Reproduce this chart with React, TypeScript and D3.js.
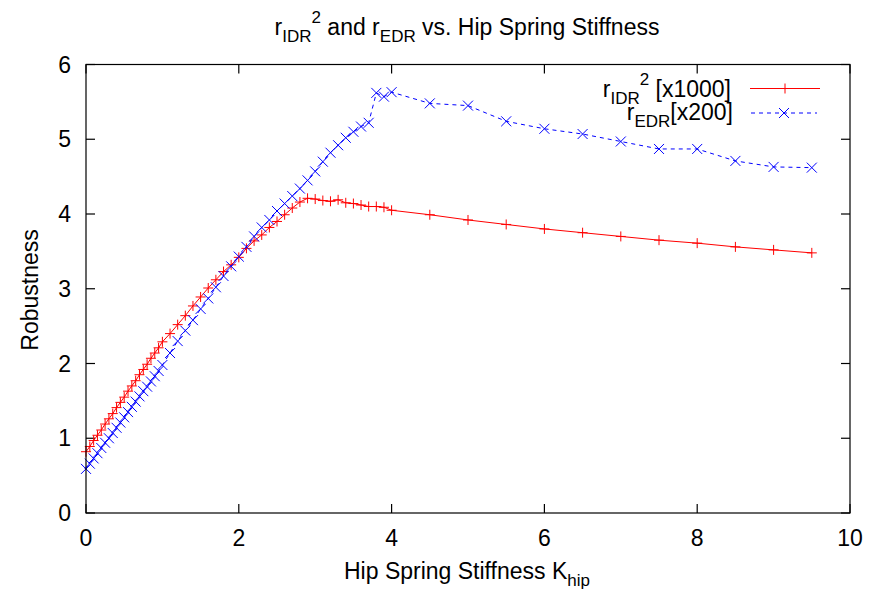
import React from "react";
import * as d3 from "d3";

const xValues = [
  0, 0.05, 0.1, 0.15, 0.2, 0.25, 0.3, 0.35, 0.4, 0.45, 0.5, 0.55, 0.6, 0.65, 0.7, 0.75, 0.8, 0.85, 0.9, 0.95, 1.0,
  1.1, 1.2, 1.3, 1.4, 1.5, 1.6, 1.7, 1.8, 1.9, 2.0, 2.1, 2.2, 2.3, 2.4, 2.5, 2.6, 2.7, 2.8, 2.9, 3.0,
  3.1, 3.2, 3.3, 3.4, 3.5, 3.6, 3.7, 3.8, 3.9, 4.0,
  4.5, 5.0, 5.5, 6.0, 6.5, 7.0, 7.5, 8.0, 8.5, 9.0, 9.5,
];

const rIDR2 = [
  0.82, 0.89, 0.97, 1.04, 1.11, 1.19, 1.26, 1.33, 1.41, 1.48, 1.55, 1.63, 1.7, 1.77, 1.85, 1.92, 1.99, 2.07, 2.14, 2.21, 2.29,
  2.4, 2.52, 2.64, 2.77, 2.89, 3.01, 3.12, 3.23, 3.32, 3.42, 3.54, 3.64, 3.72, 3.82, 3.9, 3.99, 4.08, 4.16, 4.21, 4.2,
  4.18, 4.17, 4.19, 4.15, 4.14, 4.12, 4.1, 4.1, 4.09, 4.05,
  3.99, 3.92, 3.86, 3.8, 3.75, 3.7, 3.65, 3.61, 3.56, 3.52, 3.48,
];

const rEDR = [
  0.59, 0.66, 0.73, 0.8, 0.87, 0.94, 1.0, 1.07, 1.14, 1.21, 1.28, 1.35, 1.42, 1.49, 1.56, 1.63, 1.69, 1.76, 1.83, 1.9, 1.98,
  2.14, 2.3, 2.44, 2.58, 2.73, 2.87, 3.02, 3.17, 3.3, 3.43, 3.56, 3.7, 3.82, 3.92, 4.04, 4.14, 4.24, 4.34, 4.45, 4.57,
  4.7, 4.82, 4.92, 5.02, 5.1, 5.17, 5.22, 5.62, 5.57, 5.63,
  5.48, 5.45, 5.24, 5.14, 5.07, 4.97, 4.87, 4.87, 4.71, 4.63, 4.62,
];

const xTicks = [0, 2, 4, 6, 8, 10];
const yTicks = [0, 1, 2, 3, 4, 5, 6];

const W = 878;
const H = 590;
const L = 86;
const R = 850;
const T = 64.5;
const B = 513;
const FONT = "'Liberation Sans', Arial, sans-serif";
const FS = 23;
const SFS = 17;

export default function App() {
  const x = d3.scaleLinear().domain([0, 10]).range([L, R]);
  const y = d3.scaleLinear().domain([0, 6]).range([B, T]);
  const pts = (ys: number[]) => xValues.map((v, i) => [v, ys[i]] as [number, number]);
  const line = d3
    .line<[number, number]>()
    .x((d) => x(d[0]))
    .y((d) => y(d[1]));
  const tl = 9;
  const ms = 5;

  const plus = (cx: number, cy: number, k: string) => (
    <path key={k} d={`M${cx - ms},${cy}H${cx + ms}M${cx},${cy - ms}V${cy + ms}`} stroke="#ff0000" strokeWidth={1} fill="none" />
  );
  const cross = (cx: number, cy: number, k: string) => (
    <path key={k} d={`M${cx - ms},${cy - ms}L${cx + ms},${cy + ms}M${cx - ms},${cy + ms}L${cx + ms},${cy - ms}`} stroke="#0000ff" strokeWidth={1} fill="none" />
  );

  return (
    <svg width={W} height={H} style={{ position: "absolute", left: 0, top: 0, background: "#fff" }} fontFamily={FONT}>
      <rect x={0} y={0} width={W} height={H} fill="#fff" />
      {xTicks.map((t) => (
        <g key={"xt" + t}>
          <line x1={x(t)} x2={x(t)} y1={B} y2={B - tl} stroke="#000" strokeWidth={1.2} />
          <line x1={x(t)} x2={x(t)} y1={T} y2={T + tl} stroke="#000" strokeWidth={1.2} />
          <text x={x(t)} y={546} fontSize={FS} textAnchor="middle" fill="#000">{t}</text>
        </g>
      ))}
      {yTicks.map((t) => (
        <g key={"yt" + t}>
          <line x1={L} x2={L + tl} y1={y(t)} y2={y(t)} stroke="#000" strokeWidth={1.2} />
          <line x1={R} x2={R - tl} y1={y(t)} y2={y(t)} stroke="#000" strokeWidth={1.2} />
          <text x={71} y={y(t) + 8} fontSize={FS} textAnchor="end" fill="#000">{t}</text>
        </g>
      ))}
      <path d={line(pts(rIDR2)) || ""} stroke="#ff0000" strokeWidth={1} fill="none" />
      {pts(rIDR2).map((d, i) => plus(x(d[0]), y(d[1]), "p" + i))}
      <path d={line(pts(rEDR)) || ""} stroke="#0000ff" strokeWidth={1} fill="none" strokeDasharray="4,4" />
      {pts(rEDR).map((d, i) => cross(x(d[0]), y(d[1]), "c" + i))}
      <rect x={L} y={T} width={R - L} height={B - T} fill="none" stroke="#000" strokeWidth={1.2} />
      <text x={731} y={97} fontSize={FS} textAnchor="end" fill="#000">
        <tspan>r</tspan>
        <tspan dy={7} fontSize={SFS}>IDR</tspan>
        <tspan dy={-19} fontSize={SFS}>2</tspan>
        <tspan dy={12}> [x1000]</tspan>
      </text>
      <line x1={750} x2={820} y1={88.5} y2={88.5} stroke="#ff0000" strokeWidth={1} />
      {plus(785, 88.5, "lp")}
      <text x={733} y={120} fontSize={FS} textAnchor="end" fill="#000">
        <tspan>r</tspan>
        <tspan dy={7} fontSize={SFS}>EDR</tspan>
        <tspan dy={-7}>[x200]</tspan>
      </text>
      <line x1={751} x2={817} y1={113} y2={113} stroke="#0000ff" strokeWidth={1} strokeDasharray="4,4" />
      {cross(784, 113, "lc")}
      <text x={467} y={35} fontSize={FS} textAnchor="middle" fill="#000">
        <tspan>r</tspan>
        <tspan dy={7} fontSize={SFS}>IDR</tspan>
        <tspan dy={-19} fontSize={SFS}>2</tspan>
        <tspan dy={12}> and r</tspan>
        <tspan dy={7} fontSize={SFS}>EDR</tspan>
        <tspan dy={-7}> vs. Hip Spring Stiffness</tspan>
      </text>
      <text x={467} y={579} fontSize={FS} textAnchor="middle" fill="#000">
        <tspan>Hip Spring Stiffness K</tspan>
        <tspan dy={7} fontSize={SFS}>hip</tspan>
      </text>
      <text transform={`translate(38,290) rotate(-90)`} fontSize={FS} textAnchor="middle" fill="#000">Robustness</text>
    </svg>
  );
}
